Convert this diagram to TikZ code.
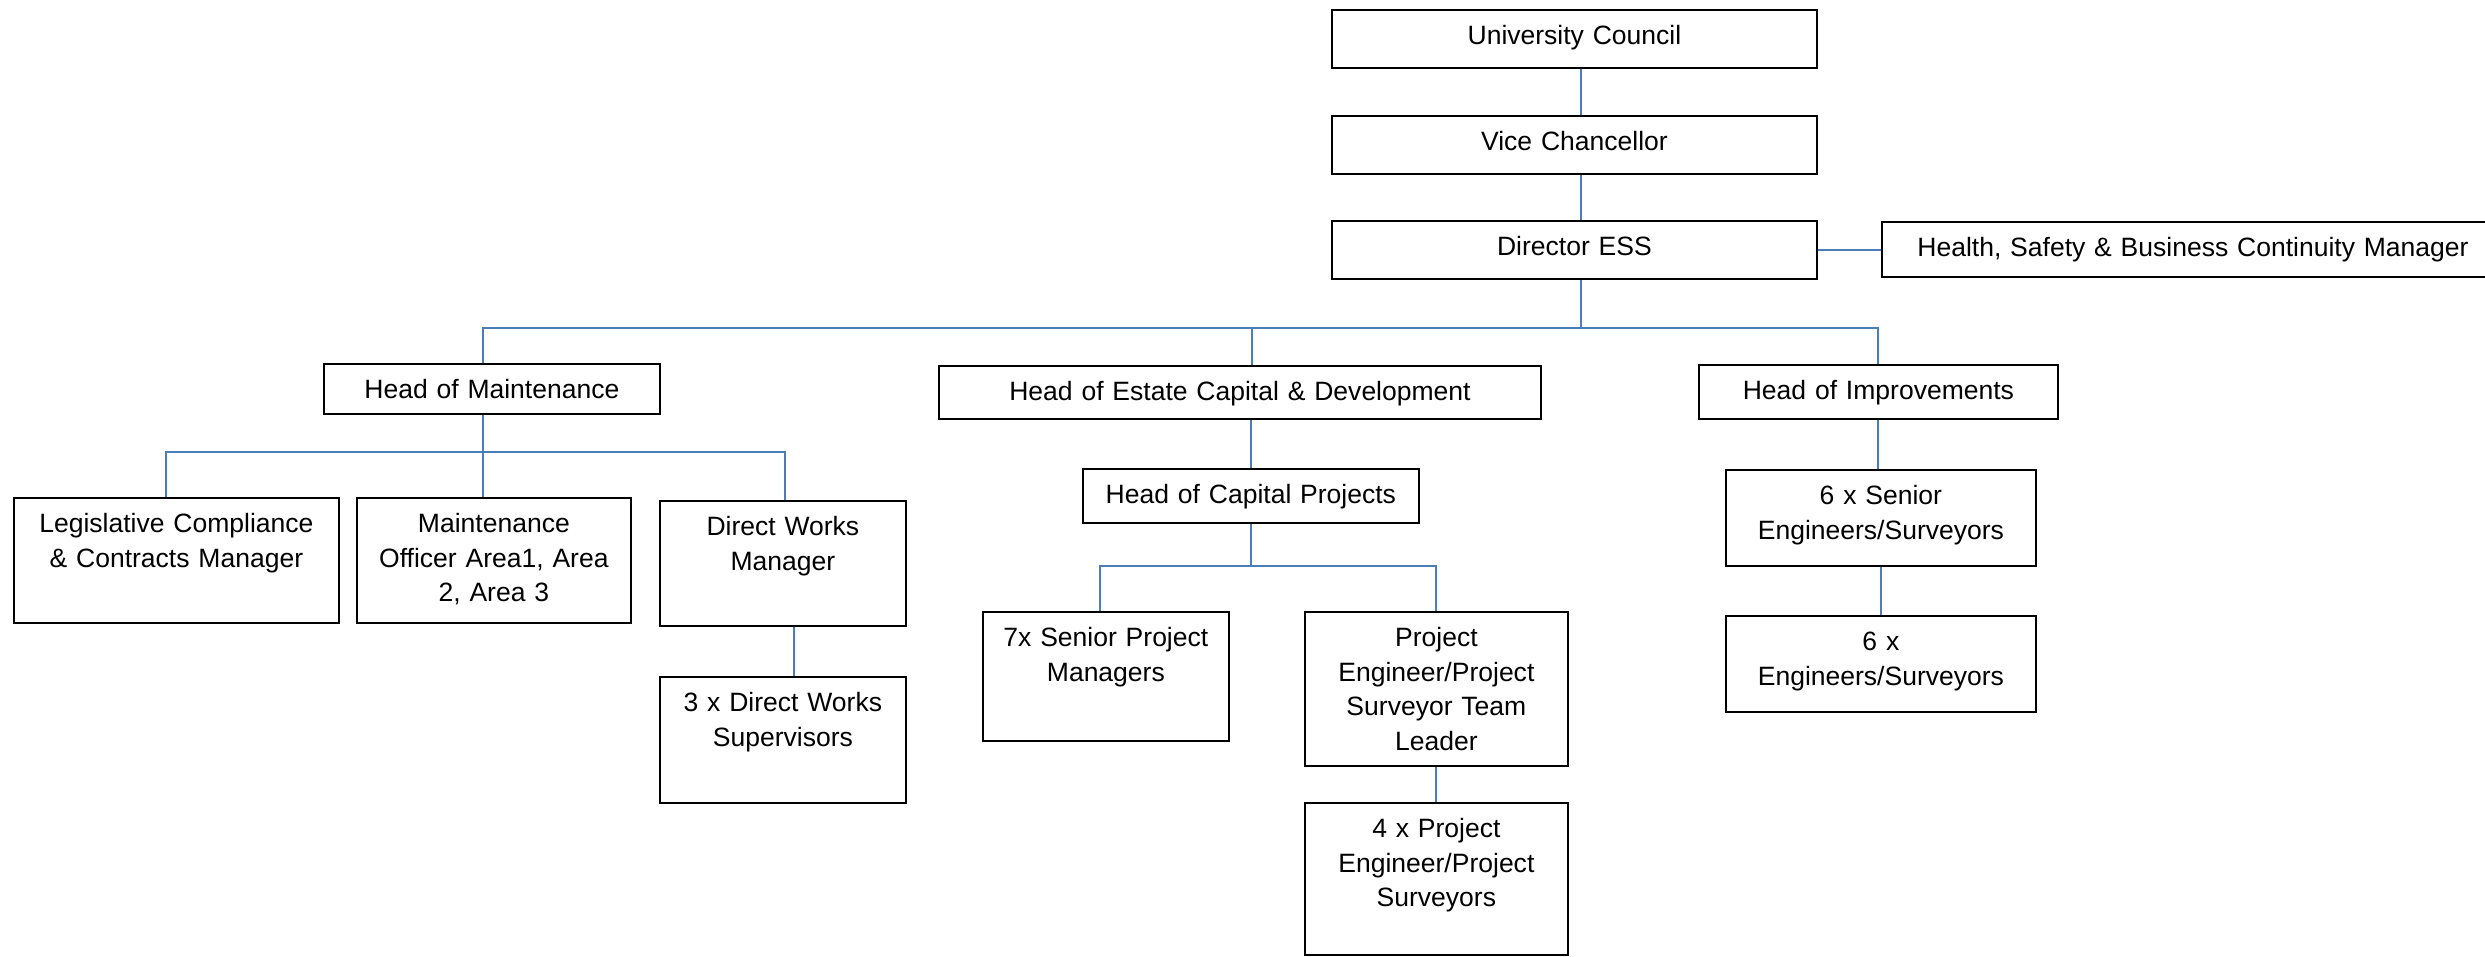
\documentclass[tikz,border=0pt]{standalone}
\usepackage{fontspec}
\setmainfont{Liberation Sans}
\usepackage{xcolor}
\definecolor{linkblue}{RGB}{74,126,187}

\tikzset{
  post/.style={draw=black, line width=0.45pt, anchor=north west, align=center,
    inner sep=0pt, text height=0.35cm, font=\fontsize{7.54}{9.8}\selectfont},
  link/.style={draw=linkblue, line width=0.55pt}
}

\begin{document}
\begin{tikzpicture}[x=0.01cm, y=-0.01cm]

    \useasboundingbox (0,0) rectangle (2485,956);

    % Top of the tree
     \node[post, text width=4.85cm, text depth=0.23cm] (uc) at (1331,9) {University Council};
     \node[post, text width=4.85cm, text depth=0.23cm] (vc) at (1331,115) {Vice Chancellor};
     \node[post, text width=4.85cm, text depth=0.23cm] (dir) at (1331,220) {Director ESS};
     \node[post, text width=6.22cm, text depth=0.20cm] (hs) at (1881,221) {Health, Safety \& Business Continuity Manager};

    % Heads
     \node[post, text width=3.36cm, text depth=0.15cm] (hm) at (323,363) {Head of Maintenance};
     \node[post, text width=6.02cm, text depth=0.18cm] (hec) at (938,365) {Head of Estate Capital \& Development};
     \node[post, text width=3.59cm, text depth=0.19cm] (hi) at (1698,364) {Head of Improvements};

    % Maintenance
     \node[post, text width=3.25cm, text depth=0.90cm] (leg) at (13,497) {Legislative Compliance\\\& Contracts Manager};
     \node[post, text width=2.74cm, text depth=0.90cm] (mo) at (356,497) {Maintenance\\Officer Area1, Area\\2, Area 3};
     \node[post, text width=2.46cm, text depth=0.90cm] (dwm) at (659,500) {Direct Works\\Manager};
     \node[post, text width=2.46cm, text depth=0.91cm] (dws) at (659,676) {3 x Direct Works\\Supervisors};

    % Capital projects
     \node[post, text width=3.36cm, text depth=0.19cm] (hcp) at (1082,468) {Head of Capital Projects};
     \node[post, text width=2.46cm, text depth=0.94cm] (sen7) at (982,611) {7x Senior Project\\Managers};
     \node[post, text width=2.63cm, text depth=1.19cm] (pet) at (1304,611) {Project\\Engineer/Project\\Surveyor Team\\Leader};
     \node[post, text width=2.63cm, text depth=1.17cm] (pe4) at (1304,802) {4 x Project\\Engineer/Project\\Surveyors};

    % Improvements
     \node[post, text width=3.10cm, text depth=0.61cm] (s6) at (1725,469) {6 x Senior\\Engineers/Surveyors};
     \node[post, text width=3.10cm, text depth=0.61cm] (e6) at (1725,615) {6 x\\Engineers/Surveyors};

    % Chain of command
     \draw[link] ([xshift=0.065cm]uc.south) -- ([xshift=0.065cm]vc.north);
     \draw[link] ([xshift=0.065cm]vc.south) -- ([xshift=0.065cm]dir.north);
     \draw[link] (dir.east) -- (dir.east -| hs.west);
     \draw[link] ([xshift=0.065cm]dir.south) -- ++(0,48) coordinate (bus);
     \draw[link] ([xshift=-0.09cm]hm.north) |- (bus) -| (hi.north);
     \draw[link] ([xshift=0.12cm]hec.north) -- ([xshift=0.12cm]hec.north |- bus);

    % Maintenance links
     \draw[link] ([xshift=-0.09cm]hm.south) -- ++(0,37) coordinate (mbus);
     \draw[link] ([xshift=-0.105cm]leg.north) |- (mbus) -| ([xshift=0.02cm]dwm.north);
     \draw[link] (mbus) -- (mbus |- mo.north);
     \draw[link] ([xshift=0.11cm]dwm.south) -- ([xshift=0.11cm]dws.north);

    % Capital links
     \draw[link] (hcp.north) -- (hcp.north |- hec.south);
     \draw[link] (hcp.south) -- ++(0,42) coordinate (cbus);
     \draw[link] ([xshift=-0.06cm]sen7.north) |- (cbus) -| (pet.north);
     \draw[link] (pet) -- (pe4);

    % Improvements links
     \draw[link] (hi.south) -- (hi.south |- s6.north);
     \draw[link] (s6) -- (e6);

\end{tikzpicture}
\end{document}
